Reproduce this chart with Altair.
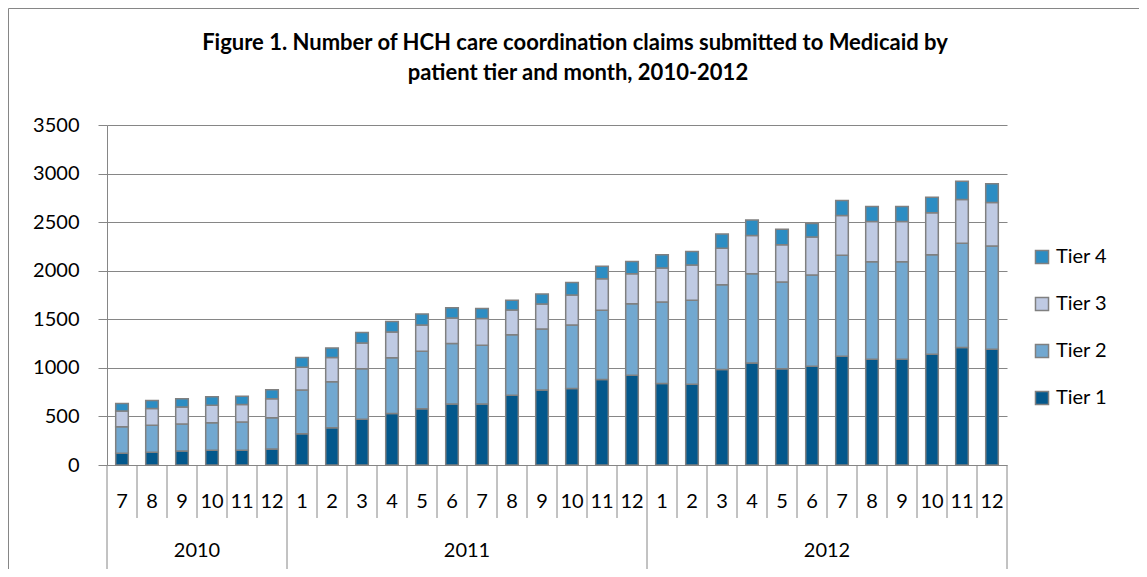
import altair as alt
import pandas as pd

years = [2010] * 6 + [2011] * 12 + [2012] * 12
months = [7, 8, 9, 10, 11, 12] + list(range(1, 13)) + list(range(1, 13))

tier1 = [120, 130, 144, 151, 151, 164,
         322, 384, 470, 531, 579, 627, 627, 719, 771, 788, 880, 925,
         839, 832, 983, 1051, 990, 1017, 1120, 1088, 1088, 1141, 1209, 1192]
tier2 = [274, 278, 277, 284, 291, 322,
         449, 472, 521, 572, 592, 623, 606, 623, 630, 654, 713, 736,
         839, 863, 873, 918, 894, 939, 1038, 1003, 1003, 1024, 1075, 1062]
tier3 = [161, 174, 175, 181, 181, 196,
         234, 250, 266, 267, 271, 264, 274, 254, 257, 308, 325, 308,
         350, 363, 374, 394, 383, 390, 411, 416, 416, 431, 449, 448]
tier4 = [79, 82, 86, 86, 86, 92,
         101, 99, 106, 106, 113, 106, 103, 99, 102, 128, 127, 127,
         137, 141, 147, 158, 161, 141, 154, 153, 154, 161, 189, 192]

tier_names = ["Tier 1", "Tier 2", "Tier 3", "Tier 4"]
tier_colors = {"Tier 1": "#03588C", "Tier 2": "#72A8D0", "Tier 3": "#BFCAE3", "Tier 4": "#2C8DC3"}
year_labels = ["2010", "2011", "2012"]
year_mid_keys = ["2010-9", "2011-6", "2012-6"]
y_ticks = [0, 500, 1000, 1500, 2000, 2500, 3000, 3500]
title_lines = ["Figure 1. Number of HCH care coordination claims submitted to Medicaid by",
               "patient tier and month, 2010-2012"]

keys = [f"{y}-{m}" for y, m in zip(years, months)]

rows = []
for n, (name, vals) in enumerate(zip(tier_names, [tier1, tier2, tier3, tier4]), start=1):
    for k, v in zip(keys, vals):
        rows.append({"key": k, "tier": name, "n": n, "value": v})
df = pd.DataFrame(rows)

W, H = 900, 340
GREY = "#868686"
FONT = "Lato"

xscale = alt.Scale(domain=keys, paddingInner=0, paddingOuter=0)
xnone = dict(scale=xscale, axis=None)

legend_order = ["Tier 4", "Tier 3", "Tier 2", "Tier 1"]

bars = alt.Chart(df).mark_bar(
    width=alt.RelativeBandSize(0.42), stroke="#808080", strokeWidth=1.5
).encode(
    x=alt.X("key:N", **xnone),
    y=alt.Y("value:Q", stack="zero", title=None,
            scale=alt.Scale(domain=[0, 3500], nice=False),
            axis=alt.Axis(values=y_ticks, format="d", grid=True, gridColor=GREY, gridWidth=1.2,
                          domainColor=GREY, tickColor=GREY, tickSize=9,
                          labelFontSize=20, labelFont=FONT, labelColor="#000000",
                          labelPadding=19)),
    color=alt.Color("tier:N", scale=alt.Scale(domain=legend_order,
                                              range=[tier_colors[t] for t in legend_order]),
                    legend=alt.Legend(title=None, orient="none", legendX=925, legendY=122,
                                      symbolType="square", symbolSize=170,
                                      symbolStrokeColor="#808080", symbolStrokeWidth=1.5,
                                      labelFontSize=20, labelFont=FONT, labelColor="#000000",
                                      rowPadding=27, labelOffset=4)),
    order=alt.Order("n:Q", sort="ascending"),
)

mdf = pd.DataFrame({"key": keys, "month": months})
month_text = alt.Chart(mdf).mark_text(fontSize=20, font=FONT, color="#000000", baseline="middle").encode(
    x=alt.X("key:N", **xnone), y=alt.value(H + 37), text="month:N")

year_start = [k for k in keys if k in ("2010-7", "2011-1", "2012-1")]
msep = alt.Chart(pd.DataFrame({"key": [k for k in keys if k not in year_start]})).mark_rule(
    color=GREY, strokeWidth=1).encode(
    x=alt.X("key:N", bandPosition=0, **xnone), y=alt.value(H), y2=alt.value(H + 53))
ysep = alt.Chart(pd.DataFrame({"key": year_start})).mark_rule(color=GREY, strokeWidth=1).encode(
    x=alt.X("key:N", bandPosition=0, **xnone), y=alt.value(H), y2=alt.value(H + 106))
esep = alt.Chart(pd.DataFrame({"key": [keys[-1]]})).mark_rule(color=GREY, strokeWidth=1).encode(
    x=alt.X("key:N", bandPosition=1, **xnone), y=alt.value(H), y2=alt.value(H + 106))

ydf = pd.DataFrame({"key": year_mid_keys, "year": year_labels})
year_text = alt.Chart(ydf).mark_text(fontSize=20, font=FONT, color="#000000", baseline="middle").encode(
    x=alt.X("key:N", bandPosition=1, **xnone), y=alt.value(H + 86), text="year:N")

frame = alt.Chart(pd.DataFrame({"f": [0]})).mark_rect(
    fillOpacity=0, stroke=GREY, strokeWidth=1).encode(
    x=alt.value(-98.5), x2=alt.value(W + 300), y=alt.value(-116.5), y2=alt.value(H + 300))

title1 = alt.Chart(pd.DataFrame({"t": [title_lines[0]]})).mark_text(
    fontSize=22, font=FONT, fontWeight="bold", color="#000000", baseline="middle", align="center"
).encode(x=alt.value(468), y=alt.value(-82), text="t:N")
title2 = alt.Chart(pd.DataFrame({"t": [title_lines[1]]})).mark_text(
    fontSize=22, font=FONT, fontWeight="bold", color="#000000", baseline="middle", align="center"
).encode(x=alt.value(471), y=alt.value(-52), text="t:N")

chart = alt.layer(frame, bars, month_text, msep, ysep, esep, year_text, title1, title2).properties(
    width=W, height=H,
    autosize=alt.AutoSizeParams(type="none"),
    padding={"left": 99, "top": 117, "right": 132, "bottom": 104},
).configure_view(stroke=None)

chart.save("out.html", embed_options={"renderer": "svg", "actions": False})
